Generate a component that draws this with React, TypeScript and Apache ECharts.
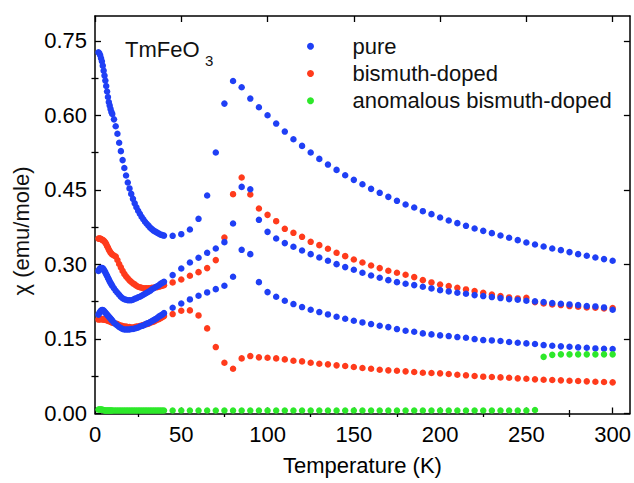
import React, { useEffect, useRef } from "react";
import * as echarts from "echarts";

const FONT = "'Liberation Sans', Arial, Helvetica, sans-serif";

// Temperatures (K)
const lowT = [2, 2.5, 3, 3.5, 4, 4.5, 5, 5.5, 6, 6.5, 7, 7.5, 8, 8.5, 9, 9.5, 10,
  11, 12, 13, 14, 15, 16, 17, 18, 19, 20, 21, 22, 23, 24, 25, 26, 27, 28, 29, 30,
  31, 32, 33, 34, 35, 36, 37, 38, 39, 40];
const highT = [45, 50, 55, 60, 65, 70, 75, 80, 85, 90, 95, 100, 105, 110, 115, 120, 125,
  130, 135, 140, 145, 150, 155, 160, 165, 170, 175, 180, 185, 190, 195, 200, 205, 210,
  215, 220, 225, 230, 235, 240, 245, 250, 255, 260, 265, 270, 275, 280, 285, 290, 295, 300];
const greenMidT = [45, 50, 55, 60, 65, 70, 75, 80, 85, 90, 95, 100, 105, 110, 115, 120, 125,
  130, 135, 140, 145, 150, 155, 160, 165, 170, 175, 180, 185, 190, 195, 200, 205, 210,
  215, 220, 225, 230, 235, 240, 245, 250, 255];
const greenUpT = [260, 265, 270, 275, 280, 285, 290, 295, 300];

// pure (three blue curves)
const pureA_low = [0.727, 0.725, 0.721, 0.715, 0.709, 0.700, 0.690, 0.680, 0.670, 0.659, 0.648, 0.637, 0.627, 0.620, 0.613, 0.607, 0.603,
  0.592, 0.578, 0.563, 0.545, 0.528, 0.510, 0.494, 0.479, 0.465, 0.453, 0.442, 0.432, 0.423, 0.415, 0.408, 0.402, 0.396, 0.391, 0.386, 0.382, 0.378, 0.374, 0.371, 0.368, 0.366, 0.364, 0.362, 0.360, 0.359, 0.358];
const pureA_high = [0.3576, 0.3609, 0.3703, 0.3918, 0.4387, 0.5252, 0.6237, 0.6693, 0.6565, 0.6338, 0.6163, 0.6002, 0.5835, 0.5674, 0.5520, 0.5386, 0.5252, 0.5124, 0.5010, 0.4903, 0.4796, 0.4702, 0.4615, 0.4521, 0.4441,
  0.4360, 0.4280, 0.4206, 0.4146, 0.4072, 0.4012, 0.3945, 0.3884, 0.3831, 0.3777, 0.3723, 0.3676, 0.3630, 0.3583, 0.3536, 0.3489, 0.3442, 0.3402, 0.3361, 0.3321, 0.3288, 0.3248, 0.3207, 0.3174, 0.3140, 0.3107, 0.3073];
const pureB_low = [0.287, 0.290, 0.292, 0.293, 0.293, 0.292, 0.290, 0.287, 0.284, 0.280, 0.277, 0.273, 0.270, 0.266, 0.263, 0.260, 0.257,
  0.252, 0.247, 0.243, 0.239, 0.235, 0.232, 0.230, 0.229, 0.228, 0.228, 0.228, 0.229, 0.231, 0.232, 0.234, 0.235, 0.237, 0.239, 0.241, 0.243, 0.245, 0.247, 0.250, 0.252, 0.254, 0.256, 0.258, 0.261, 0.263, 0.265];
const pureB_high = [0.2785, 0.2919, 0.3040, 0.3134, 0.3234, 0.3321, 0.3449, 0.3824, 0.4561, 0.4514, 0.3898, 0.3656, 0.3522, 0.3429, 0.3355, 0.3281, 0.3207, 0.3140, 0.3073, 0.3006, 0.2946, 0.2892, 0.2832, 0.2778, 0.2731,
  0.2684, 0.2644, 0.2611, 0.2584, 0.2550, 0.2517, 0.2483, 0.2457, 0.2430, 0.2410, 0.2383, 0.2363, 0.2343, 0.2323, 0.2302, 0.2289, 0.2269, 0.2256, 0.2242, 0.2222, 0.2209, 0.2195, 0.2182, 0.2162, 0.2155, 0.2135, 0.2088];
const pureC_low = [0.199, 0.202, 0.205, 0.207, 0.208, 0.208, 0.207, 0.205, 0.203, 0.201, 0.199, 0.197, 0.195, 0.193, 0.191, 0.189, 0.187,
  0.183, 0.180, 0.177, 0.174, 0.172, 0.170, 0.169, 0.169, 0.169, 0.169, 0.170, 0.170, 0.171, 0.172, 0.173, 0.175, 0.176, 0.177, 0.179, 0.181, 0.182, 0.184, 0.186, 0.188, 0.190, 0.192, 0.195, 0.197, 0.199, 0.202];
const pureC_high = [0.2128, 0.2215, 0.2296, 0.2369, 0.2437, 0.2503, 0.2570, 0.2751, 0.3294, 0.3207, 0.2644, 0.2443, 0.2349, 0.2269, 0.2202, 0.2142, 0.2088, 0.2041, 0.1994, 0.1947, 0.1907, 0.1867, 0.1833, 0.1800, 0.1766,
  0.1739, 0.1699, 0.1666, 0.1646, 0.1612, 0.1592, 0.1572, 0.1558, 0.1538, 0.1525, 0.1498, 0.1478, 0.1471, 0.1458, 0.1438, 0.1424, 0.1411, 0.1398, 0.1377, 0.1364, 0.1351, 0.1344, 0.1331, 0.1324, 0.1310, 0.1304, 0.1297];

// bismuth-doped (two red curves)
const bismuthA_low = [0.352, 0.352, 0.352, 0.351, 0.350, 0.349, 0.348, 0.346, 0.344, 0.341, 0.337, 0.334, 0.330, 0.327, 0.324, 0.322, 0.320,
  0.318, 0.316, 0.309, 0.301, 0.294, 0.287, 0.281, 0.276, 0.272, 0.268, 0.265, 0.262, 0.260, 0.257, 0.255, 0.254, 0.253, 0.252, 0.252, 0.252, 0.252, 0.252, 0.253, 0.253, 0.254, 0.254, 0.255, 0.256, 0.257, 0.258];
const bismuthA_high = [0.2638, 0.2698, 0.2772, 0.2845, 0.2926, 0.3087, 0.3542, 0.4414, 0.4749, 0.4407, 0.4126, 0.3998, 0.3871, 0.3717, 0.3636, 0.3556, 0.3455, 0.3388, 0.3315, 0.3234, 0.3167, 0.3100, 0.3040, 0.2979, 0.2926,
  0.2872, 0.2832, 0.2792, 0.2745, 0.2684, 0.2638, 0.2597, 0.2564, 0.2530, 0.2497, 0.2463, 0.2430, 0.2396, 0.2363, 0.2336, 0.2316, 0.2329, 0.2242, 0.2215, 0.2195, 0.2182, 0.2162, 0.2148, 0.2135, 0.2128, 0.2115, 0.2121];
const bismuthB_low = [0.189, 0.190, 0.190, 0.190, 0.190, 0.190, 0.189, 0.189, 0.189, 0.188, 0.188, 0.187, 0.186, 0.186, 0.185, 0.184, 0.183,
  0.182, 0.181, 0.180, 0.178, 0.177, 0.176, 0.175, 0.175, 0.174, 0.174, 0.173, 0.173, 0.174, 0.175, 0.175, 0.176, 0.177, 0.178, 0.179, 0.180, 0.181, 0.183, 0.184, 0.185, 0.187, 0.189, 0.190, 0.192, 0.194, 0.196];
const bismuthB_high = [0.2001, 0.2068, 0.2075, 0.1974, 0.1713, 0.1337, 0.1022, 0.0901, 0.1109, 0.1156, 0.1130, 0.1123, 0.1109, 0.1089, 0.1062, 0.1049, 0.1022, 0.1002, 0.0989, 0.0969, 0.0955, 0.0935, 0.0915, 0.0901, 0.0881,
  0.0868, 0.0861, 0.0848, 0.0835, 0.0821, 0.0814, 0.0808, 0.0794, 0.0781, 0.0768, 0.0754, 0.0741, 0.0734, 0.0727, 0.0720, 0.0707, 0.0700, 0.0687, 0.0680, 0.0674, 0.0667, 0.0660, 0.0654, 0.0647, 0.0640, 0.0633, 0.0627];

// anomalous bismuth-doped (green)
const anomalous_low = [0.008, 0.008, 0.008, 0.008, 0.008, 0.007, 0.007, 0.006, 0.006, 0.006, 0.006, 0.006, 0.006, 0.006, 0.006, 0.006, 0.006,
  0.006, 0.006, 0.006, 0.006, 0.006, 0.006, 0.006, 0.006, 0.006, 0.006, 0.006, 0.006, 0.006, 0.006, 0.006, 0.006, 0.006, 0.006, 0.006, 0.006, 0.006, 0.006, 0.006, 0.006, 0.006, 0.006, 0.006, 0.006, 0.006, 0.006];
const anomalous_mid = [0.006, 0.006, 0.006, 0.006, 0.006, 0.006, 0.006, 0.006, 0.006, 0.006, 0.006, 0.006, 0.006, 0.006, 0.006, 0.006, 0.006,
  0.006, 0.006, 0.006, 0.006, 0.006, 0.006, 0.006, 0.006, 0.006, 0.006, 0.006, 0.006, 0.006, 0.006, 0.006, 0.006, 0.006, 0.006, 0.006, 0.006, 0.006, 0.006, 0.006, 0.006, 0.006, 0.007];
const anomalous_up = [0.114, 0.118, 0.119, 0.119, 0.119, 0.119, 0.119, 0.119, 0.119];

const xMajor = [0, 50, 100, 150, 200, 250, 300];
const xMinor = [25, 75, 125, 175, 225, 275];
const yMajor = [0, 0.15, 0.3, 0.45, 0.6, 0.75];
const yMinor = [0.075, 0.225, 0.375, 0.525, 0.675];

const BLUE = "#1f3ff5";
const RED = "#ff3b1c";
const GREEN = "#2de82a";

const zip = (xs: number[], ys: number[]) => xs.map((x, i) => [x, ys[i]]);

export default function App() {
  const ref = useRef<HTMLDivElement>(null);
  useEffect(() => {
    document.body.style.margin = "0";
    const chart = echarts.init(ref.current!, null, { renderer: "svg" });
    const axisLine = { show: true, onZero: false, lineStyle: { color: "#000", width: 1.5 } };
    const tickStyle = { color: "#000", width: 1.3 };
    const labelStyle = { color: "#000", fontSize: 22, fontFamily: FONT };
    const mkX = (pos: string, major: boolean, labels: boolean, line: boolean) => ({
      type: "value", position: pos, min: 0, max: 310,
      axisLine: line ? axisLine : { show: false },
      axisTick: { show: true, inside: true, length: major ? 6 : 3.5, lineStyle: tickStyle, customValues: major ? xMajor : xMinor },
      axisLabel: labels ? { show: true, customValues: xMajor, margin: 10, ...labelStyle } : { show: false },
      splitLine: { show: false },
    });
    const mkY = (pos: string, major: boolean, labels: boolean, line: boolean) => ({
      type: "value", position: pos, min: 0, max: 0.8,
      axisLine: line ? axisLine : { show: false },
      axisTick: { show: true, inside: true, length: major ? 6 : 3.5, lineStyle: tickStyle, customValues: major ? yMajor : yMinor },
      axisLabel: labels ? { show: true, customValues: yMajor, margin: 8, formatter: (v: number) => v.toFixed(2), ...labelStyle } : { show: false },
      splitLine: { show: false },
    });
    const scatter = (name: string, color: string, data: number[][]) => ({
      type: "scatter", name, data, symbol: "circle", symbolSize: 6.5,
      itemStyle: { color, opacity: 1 }, xAxisIndex: 0, yAxisIndex: 0,
    });
    const x0: any = mkX("bottom", true, true, true);
    x0.name = "Temperature (K)";
    x0.nameLocation = "middle";
    x0.nameGap = 41;
    x0.nameTextStyle = { ...labelStyle };
    chart.setOption({
      animation: false,
      backgroundColor: "#fff",
      textStyle: { fontFamily: FONT },
      grid: { left: 95, right: 3, top: 16, bottom: 69.5 },
      xAxis: [x0, mkX("bottom", false, false, false), mkX("top", true, false, true), mkX("top", false, false, false)],
      yAxis: [mkY("left", true, true, true), mkY("left", false, false, false), mkY("right", true, false, true), mkY("right", false, false, false)],
      legend: {
        data: ["pure", "bismuth-doped", "anomalous bismuth-doped"],
        orient: "vertical", left: 302, top: 30.2, icon: "circle",
        itemWidth: 74, itemHeight: 7, itemGap: 5.3,
        textStyle: { color: "#111", fontSize: 22, fontFamily: FONT, lineHeight: 22 },
      },
      graphic: [
        { type: "text", x: 125, y: 49, style: { text: "TmFeO", font: `22px ${FONT}`, fill: "#111", verticalAlign: "middle" } },
        { type: "text", x: 205, y: 60, style: { text: "3", font: `15px ${FONT}`, fill: "#111", verticalAlign: "middle" } },
        { type: "text", x: 21, y: 231, rotation: Math.PI / 2, style: { text: "χ (emu/mole)", font: `22px ${FONT}`, fill: "#111", align: "center", verticalAlign: "middle" } },
      ],
      series: [
        scatter("bismuth-doped", RED, zip(lowT, bismuthA_low)),
        scatter("bismuth-doped", RED, zip(highT, bismuthA_high)),
        scatter("bismuth-doped", RED, zip(lowT, bismuthB_low)),
        scatter("bismuth-doped", RED, zip(highT, bismuthB_high)),
        scatter("pure", BLUE, zip(lowT, pureA_low)),
        scatter("pure", BLUE, zip(highT, pureA_high)),
        scatter("pure", BLUE, zip(lowT, pureB_low)),
        scatter("pure", BLUE, zip(highT, pureB_high)),
        scatter("pure", BLUE, zip(lowT, pureC_low)),
        scatter("pure", BLUE, zip(highT, pureC_high)),
        scatter("anomalous bismuth-doped", GREEN, zip(lowT, anomalous_low)),
        scatter("anomalous bismuth-doped", GREEN, zip(greenMidT, anomalous_mid)),
        scatter("anomalous bismuth-doped", GREEN, zip(greenUpT, anomalous_up)),
      ],
    });
    return () => chart.dispose();
  }, []);
  return <div ref={ref} style={{ width: 634, height: 483 }} />;
}
